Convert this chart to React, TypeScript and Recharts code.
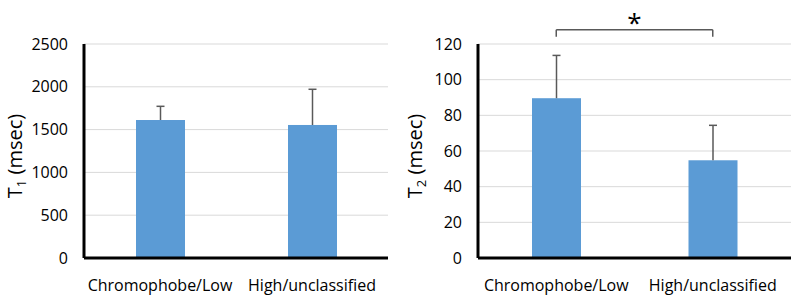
import { Bar, BarChart, CartesianGrid, ReferenceLine, XAxis, YAxis } from "recharts";

const categories = ["Chromophobe/Low", "High/unclassified"];
const t1Mean = [1612, 1554];
const t1Sd = [160, 417];
const t2Mean = [89.6, 54.8];
const t2Sd = [24, 19.6];
const t1Ticks = [0, 500, 1000, 1500, 2000, 2500];
const t2Ticks = [0, 20, 40, 60, 80, 100, 120];
const bracketTop = 128;
const bracketFoot = 124;

const BLUE = "#5B9BD5";
const ERR = "#595959";
const FONT = "'Open Sans', 'Liberation Sans', sans-serif";
const tickStyle = { fill: "#000", fontSize: 16, fontFamily: FONT };

const t1Data = categories.map((name, i) => ({ name, value: t1Mean[i], err: t1Sd[i] }));
const t2Data = categories.map((name, i) => ({ name, value: t2Mean[i], err: t2Sd[i] }));

// bar plus an upward-only error whisker (the lower half sits behind the bar in the original)
function BarWithError(props: any) {
  const { x, y, width, height, payload } = props;
  const errPx = (height * payload.err) / payload.value;
  const cx = x + width / 2;
  return (
    <g>
      <rect x={x} y={y} width={width} height={height} fill={BLUE} />
      <line x1={cx} x2={cx} y1={y} y2={y - errPx} stroke={ERR} strokeWidth={1.5} />
      <line x1={cx - 4} x2={cx + 4} y1={y - errPx} y2={y - errPx} stroke={ERR} strokeWidth={1.5} />
    </g>
  );
}

function AxisTitle({ viewBox, sub }: { viewBox?: { x: number; y: number; width: number; height: number }; sub: string }) {
  if (!viewBox) return null;
  const x = viewBox.x + 22;
  const y = viewBox.y + viewBox.height / 2 + 5;
  return (
    <text x={x} y={y} transform={`rotate(-90 ${x} ${y})`} textAnchor="middle" fontSize={20} fontFamily={FONT} fill="#000">
      T<tspan fontSize={13} dy={4}>{sub}</tspan>
      <tspan dy={-4}> (msec)</tspan>
    </text>
  );
}

function Panel({ data, ticks, sub, width, axisWidth, bracket }: {
  data: { name: string; value: number; err: number }[];
  ticks: number[];
  sub: string;
  width: number;
  axisWidth: number;
  bracket?: boolean;
}) {
  return (
    <BarChart width={width} height={305} data={data} margin={{ top: 44, right: 12, left: 0, bottom: 17 }}>
      <CartesianGrid vertical={false} stroke="#d9d9d9" />
      <XAxis
        dataKey="name"
        tick={tickStyle}
        tickLine={false}
        axisLine={{ stroke: "#000", strokeWidth: 3 }}
        tickMargin={16}
        height={30}
      />
      <YAxis
        domain={[0, ticks[ticks.length - 1]]}
        ticks={ticks}
        tick={tickStyle}
        tickLine={false}
        tickSize={0}
        tickMargin={16}
        axisLine={{ stroke: "#000", strokeWidth: 3 }}
        width={axisWidth}
        label={<AxisTitle sub={sub} />}
      />
      <Bar dataKey="value" fill={BLUE} barSize={49} shape={<BarWithError />} isAnimationActive={false} />
      {bracket && (
        <>
          <ReferenceLine
            segment={[{ x: categories[0], y: bracketTop }, { x: categories[1], y: bracketTop }]}
            stroke={ERR}
            strokeWidth={1.5}
            ifOverflow="visible"
            label={{ value: "*", position: "top", fontSize: 26, fill: "#000", fontFamily: FONT, dy: 7 }}
          />
          <ReferenceLine
            segment={[{ x: categories[0], y: bracketTop }, { x: categories[0], y: bracketFoot }]}
            stroke={ERR}
            strokeWidth={1.5}
            ifOverflow="visible"
          />
          <ReferenceLine
            segment={[{ x: categories[1], y: bracketTop }, { x: categories[1], y: bracketFoot }]}
            stroke={ERR}
            strokeWidth={1.5}
            ifOverflow="visible"
          />
        </>
      )}
    </BarChart>
  );
}

export default function App() {
  return (
    <div style={{ position: "absolute", left: 0, top: 0, width: 803, height: 305, background: "#fff", display: "flex" }}>
      <Panel data={t1Data} ticks={t1Ticks} sub="1" width={400} axisWidth={84} />
      <Panel data={t2Data} ticks={t2Ticks} sub="2" width={403} axisWidth={78} bracket />
    </div>
  );
}
